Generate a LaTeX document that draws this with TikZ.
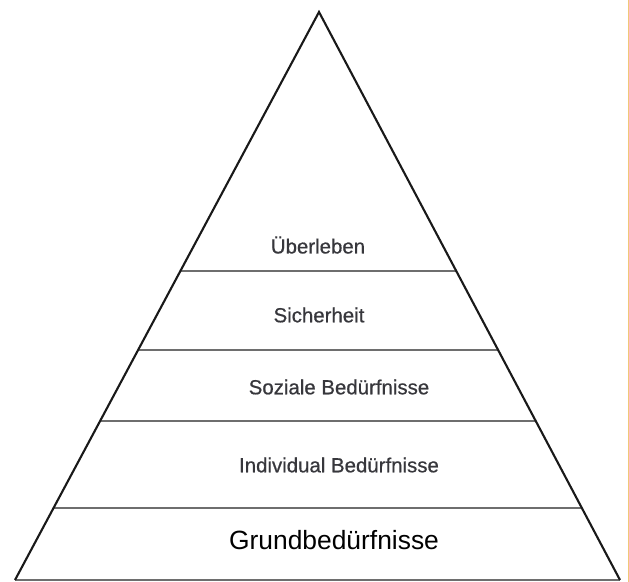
\documentclass[tikz,border=0pt]{standalone}
\usepackage{fontspec}
\setmainfont{Liberation Sans}
\newfontfamily\levelfont[FakeBold=0.6]{Liberation Sans}
\usetikzlibrary{calc}
\definecolor{mygray}{RGB}{110,110,110}
\definecolor{mytext}{RGB}{55,55,60}
\definecolor{myyellow}{RGB}{240,200,120}
\begin{document}
\begin{tikzpicture}
    [x=1bp,y=-1bp,
     side/.style={black!90,line width=2.1bp},
     layer/.style={mygray,line width=2.6bp},
     level/.style={text=mytext,font=\levelfont\fontsize{20.5}{24}\selectfont,inner sep=0pt},
     base/.style={text=black,font=\fontsize{26.5}{30}\selectfont,inner sep=0pt}]

    \useasboundingbox (0,0) rectangle (629,582);

    % corners of the pyramid
    \coordinate (apex) at (319,12);
    \coordinate (left) at (15,580);
    \coordinate (right) at (620,580);

    % layer borders (fraction of the height from the base)
    \foreach \name/\t in {one/0.127,two/0.280,three/0.405,four/0.544}
    {
        \coordinate (\name l) at ($(left)!\t!(apex)$);
        \coordinate (\name r) at ($(right)!\t!(apex)$);
        \draw[layer] (\name l) -- (\name r);
    }
    \draw[layer] (left) -- (right);

    \draw[side] (left) -- (apex) -- (right);

    % labels
    \node[level] (survive) at (318,245) {Überleben};
    \node[level] (safety) at (319,315) {Sicherheit};
    \node[level] (social) at (339,387) {Soziale Bedürfnisse};
    \node[level] (individual) at (339,465) {Individual Bedürfnisse};
    \node[base] (basic) at (334,540) {Grundbedürfnisse};

    % thin edge at the right
    \draw[myyellow,line width=1bp] (628.5,0) -- (628.5,582);
\end{tikzpicture}
\end{document}
